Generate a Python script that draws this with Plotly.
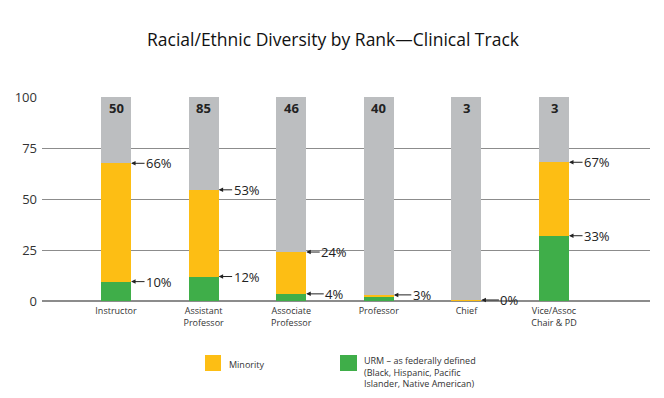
import plotly.graph_objects as go

categories = ["Instructor", "Assistant<br>Professor", "Associate<br>Professor", "Professor", "Chief", "Vice/Assoc<br>Chair & PD"]
counts = ["50", "85", "46", "40", "3", "3"]
urm_pct = [9.5, 12, 3.5, 2, 0, 32]
minority_pct = [67.5, 54.5, 24, 3, 0.5, 68]
urm_labels = ["10%", "12%", "4%", "", "", "33%"]
minority_labels = ["66%", "53%", "24%", "3%", "0%", "67%"]

GREY = "#BCBEC0"
YELLOW = "#FDBE14"
GREEN = "#3FAE49"
FONT = "Open Sans"

OFF = 8  # page body margin
W, H = 664 - OFF, 398 - OFF
ML, MR, MT, MB = 42 - OFF, 14, 97 - OFF, 97

x = list(range(len(categories)))
bw = 0.343
yellow_part = [m - u for m, u in zip(minority_pct, urm_pct)]
grey_part = [100 - m for m in minority_pct]

fig = go.Figure()
fig.add_trace(go.Bar(x=x, y=urm_pct, width=bw, marker=dict(color=GREEN, line=dict(width=0)), showlegend=False))
fig.add_trace(go.Bar(x=x, y=yellow_part, width=bw, marker=dict(color=YELLOW, line=dict(width=0)), showlegend=False))
fig.add_trace(go.Bar(x=x, y=grey_part, width=bw, marker=dict(color=GREY, line=dict(width=0)), showlegend=False))

pw = W - ML - MR
ph = H - MT - MB
def px2paper_x(px):
    return (px - OFF - ML) / pw
def px2paper_y(py):
    return (H - MB - (py - OFF)) / ph

ann = []
for i, c in enumerate(counts):
    ann.append(dict(x=i, y=100, xref="x", yref="y", text=f"<b>{c}</b>", showarrow=False,
                    yshift=-11, font=dict(family=FONT, size=13, color="#222")))

def arrow(i, yv, txt):
    return dict(x=i + bw / 2, y=yv, xref="x", yref="y", text=txt, showarrow=True,
                ax=28, ay=0, axref="pixel", ayref="pixel", arrowhead=2, arrowsize=0.9, arrowwidth=1,
                arrowcolor="#222", standoff=0, font=dict(family=FONT, size=13, color="#222"))

for i, t in enumerate(minority_labels):
    if t:
        ann.append(arrow(i, minority_pct[i], t))
for i, t in enumerate(urm_labels):
    if t:
        ann.append(arrow(i, urm_pct[i], t))

ann.append(dict(x=px2paper_x(227), y=px2paper_y(364), xref="paper", yref="paper", text="Minority",
                showarrow=False, xanchor="left", yanchor="middle",
                font=dict(family=FONT, size=9, color="#333")))
ann.append(dict(x=px2paper_x(362), y=px2paper_y(352), xref="paper", yref="paper",
                text="URM – as federally defined<br>(Black, Hispanic, Pacific<br>Islander, Native American)",
                showarrow=False, xanchor="left", yanchor="top", align="left",
                font=dict(family=FONT, size=9, color="#333")))

shapes = [
    dict(type="rect", xref="paper", yref="paper", x0=px2paper_x(205), x1=px2paper_x(221),
         y0=px2paper_y(371), y1=px2paper_y(355), fillcolor=YELLOW, line=dict(width=0)),
    dict(type="rect", xref="paper", yref="paper", x0=px2paper_x(340), x1=px2paper_x(357),
         y0=px2paper_y(371), y1=px2paper_y(355), fillcolor=GREEN, line=dict(width=0)),
]

fig.update_layout(
    width=W, height=H,
    barmode="stack",
    paper_bgcolor="white", plot_bgcolor="white",
    margin=dict(l=ML, r=MR, t=MT, b=MB, autoexpand=False),
    title=dict(text="Racial/Ethnic Diversity by Rank—Clinical Track", x=(333 - OFF) / W, xanchor="center",
               y=1 - (40 - OFF) / H, yanchor="middle", automargin=False,
               font=dict(family=FONT, size=17.5, color="#111")),
    xaxis=dict(range=[-0.845, 6.096], tickvals=x, ticktext=categories, showgrid=False, zeroline=False,
               showline=False, ticks="", automargin=False, ticklabelstandoff=3,
               tickfont=dict(family=FONT, size=9, color="#333")),
    yaxis=dict(range=[0, 100], tickvals=[0, 25, 50, 75, 100], showgrid=True, gridcolor="#8C8C8C",
               gridwidth=1, zeroline=True, zerolinecolor="#8C8C8C", showline=False, ticks="",
               automargin=False, ticklabelstandoff=4, tickfont=dict(family=FONT, size=13, color="#333")),
    annotations=ann,
    shapes=shapes,
)

fig.write_html("out.html")
